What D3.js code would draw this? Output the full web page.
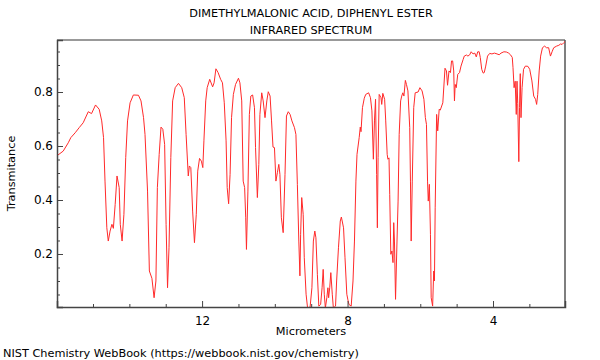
<!DOCTYPE html>
<html><head><meta charset="utf-8">
<script src="https://cdn.jsdelivr.net/npm/d3@7"></script>
<style>body{margin:0;background:#fff}svg{display:block}text{font-family:"DejaVu Sans",sans-serif;fill:#000}</style>
</head><body>
<svg id="c" width="600" height="360"></svg>
<script>
const titleLines = ["DIMETHYLMALONIC ACID, DIPHENYL ESTER", "INFRARED SPECTRUM"];
const xLabel = "Micrometers";
const yLabel = "Transmitance";
const credit = "NIST Chemistry WebBook (https://webbook.nist.gov/chemistry)";
const xTicks = [12, 8, 4];
const yTicks = [0.2, 0.4, 0.6, 0.8];
const wavelength = [16.00,15.82,15.68,15.61,15.49,15.38,15.27,15.13,15.04,14.93,14.83,14.76,14.71,14.67,14.62,14.58,14.53,14.48,14.44,14.39,14.34,14.28,14.25,14.20,14.15,14.10,14.05,13.98,13.89,13.75,13.68,13.61,13.57,13.50,13.45,13.38,13.32,13.27,13.23,13.18,13.13,13.08,13.03,12.99,12.95,12.91,12.86,12.81,12.74,12.65,12.56,12.49,12.44,12.38,12.35,12.31,12.26,12.21,12.16,12.12,12.07,12.02,11.98,11.95,11.90,11.86,11.79,11.71,11.67,11.62,11.56,11.49,11.44,11.39,11.34,11.31,11.27,11.23,11.19,11.14,11.08,11.00,10.96,10.91,10.87,10.83,10.80,10.78,10.74,10.70,10.66,10.61,10.56,10.53,10.48,10.44,10.41,10.36,10.32,10.27,10.22,10.18,10.13,10.09,10.05,10.01,9.97,9.93,9.89,9.86,9.82,9.77,9.72,9.68,9.63,9.58,9.53,9.46,9.42,9.38,9.34,9.31,9.29,9.26,9.22,9.19,9.14,9.10,9.03,8.98,8.94,8.90,8.87,8.83,8.79,8.74,8.70,8.67,8.64,8.61,8.57,8.54,8.52,8.49,8.46,8.42,8.39,8.33,8.30,8.25,8.20,8.17,8.11,8.07,8.02,7.99,7.96,7.90,7.85,7.81,7.77,7.74,7.68,7.65,7.63,7.59,7.54,7.50,7.42,7.37,7.33,7.29,7.26,7.23,7.20,7.18,7.16,7.13,7.08,7.06,7.03,6.98,6.95,6.91,6.89,6.86,6.84,6.81,6.78,6.75,6.73,6.71,6.68,6.64,6.61,6.58,6.54,6.51,6.48,6.45,6.41,6.38,6.34,6.29,6.27,6.25,6.22,6.18,6.14,6.06,6.01,5.95,5.90,5.86,5.83,5.80,5.78,5.75,5.72,5.70,5.66,5.63,5.61,5.59,5.55,5.52,5.48,5.45,5.38,5.32,5.28,5.25,5.21,5.17,5.14,5.11,5.08,5.06,5.04,5.01,4.97,4.92,4.88,4.82,4.79,4.73,4.69,4.64,4.60,4.55,4.50,4.46,4.42,4.38,4.35,4.31,4.27,4.24,4.20,4.15,4.09,4.03,3.96,3.89,3.83,3.78,3.70,3.63,3.57,3.52,3.47,3.45,3.42,3.39,3.36,3.34,3.32,3.29,3.27,3.25,3.23,3.20,3.16,3.11,3.04,2.99,2.93,2.88,2.83,2.80,2.77,2.73,2.69,2.64,2.58,2.53,2.47,2.42,2.37,2.33,2.25,2.19,2.14,2.10,2.05,2.02];
const transmittance = [0.563,0.581,0.612,0.631,0.649,0.668,0.686,0.727,0.720,0.752,0.736,0.693,0.631,0.470,0.297,0.248,0.285,0.310,0.295,0.384,0.489,0.446,0.310,0.248,0.347,0.557,0.693,0.760,0.789,0.788,0.767,0.705,0.643,0.433,0.137,0.110,0.038,0.100,0.446,0.569,0.670,0.662,0.606,0.310,0.075,0.223,0.557,0.767,0.816,0.832,0.816,0.779,0.643,0.489,0.526,0.520,0.359,0.242,0.347,0.507,0.554,0.544,0.520,0.619,0.767,0.816,0.847,0.819,0.834,0.886,0.872,0.847,0.834,0.760,0.619,0.446,0.386,0.495,0.705,0.791,0.828,0.851,0.834,0.767,0.470,0.446,0.334,0.217,0.433,0.717,0.785,0.789,0.742,0.594,0.409,0.532,0.717,0.797,0.767,0.705,0.767,0.801,0.785,0.693,0.596,0.594,0.470,0.501,0.532,0.495,0.334,0.279,0.495,0.711,0.727,0.717,0.693,0.668,0.643,0.458,0.248,0.119,0.273,0.409,0.347,0.186,0.051,0.001,0.003,0.075,0.248,0.285,0.260,0.125,0.007,0.013,0.075,0.143,0.051,0.000,0.038,0.075,0.038,0.075,0.131,0.051,0.000,0.007,0.100,0.223,0.322,0.337,0.297,0.186,0.051,0.030,0.013,0.007,0.100,0.248,0.470,0.569,0.631,0.670,0.653,0.742,0.777,0.791,0.797,0.779,0.730,0.551,0.693,0.773,0.495,0.297,0.557,0.791,0.779,0.754,0.795,0.773,0.693,0.569,0.551,0.556,0.421,0.199,0.211,0.168,0.316,0.248,0.032,0.248,0.396,0.643,0.767,0.785,0.797,0.785,0.843,0.828,0.804,0.668,0.470,0.248,0.470,0.742,0.797,0.800,0.816,0.804,0.773,0.705,0.680,0.470,0.396,0.458,0.273,0.038,0.007,0.137,0.100,0.371,0.717,0.656,0.736,0.733,0.760,0.888,0.878,0.825,0.878,0.872,0.915,0.915,0.878,0.767,0.828,0.816,0.865,0.872,0.896,0.921,0.933,0.937,0.933,0.938,0.949,0.941,0.944,0.930,0.949,0.949,0.928,0.884,0.870,0.872,0.896,0.933,0.943,0.941,0.944,0.941,0.938,0.944,0.949,0.948,0.944,0.938,0.928,0.890,0.816,0.840,0.717,0.840,0.757,0.542,0.742,0.868,0.705,0.816,0.884,0.896,0.895,0.884,0.841,0.785,0.773,0.754,0.791,0.878,0.933,0.964,0.970,0.964,0.964,0.933,0.951,0.964,0.970,0.973,0.978,0.976,0.983,0.987];

const W = 600, H = 360, m = {l:57, r:35, t:40, b:53};
const FS = 11.3, TFS = 12;
const svg = d3.select("#c");
const x = d3.scaleLinear().domain([15.99, 2.02]).range([m.l, W - m.r]);
const y = d3.scaleLinear().domain([0.0037, 0.9926]).range([H - m.b, m.t]);
const data = wavelength.map((w, i) => ({w, t: transmittance[i]}));

svg.append("clipPath").attr("id","clip").append("rect")
  .attr("x", m.l).attr("y", m.t).attr("width", W - m.l - m.r).attr("height", H - m.t - m.b);

// frame top/right
svg.append("line").attr("x1", m.l).attr("x2", W - m.r).attr("y1", m.t).attr("y2", m.t).attr("stroke", "#999").attr("stroke-width", 2);
svg.append("line").attr("x1", W - m.r).attr("x2", W - m.r).attr("y1", m.t).attr("y2", H - m.b).attr("stroke", "#555").attr("stroke-width", 1.5);

const line = d3.line().x(d => x(d.w)).y(d => y(d.t));
svg.append("path").datum(data).attr("clip-path","url(#clip)")
  .attr("fill","none").attr("stroke","#ff2a2a").attr("stroke-width",1).attr("d", line);

// x axis
const xMinor = d3.range(15, 2, -1).filter(v => !xTicks.includes(v));
const gx = svg.append("g").attr("transform", `translate(0,${H - m.b})`);
gx.call(d3.axisBottom(x).tickValues(xTicks).tickSize(-6).tickPadding(9).tickFormat(d3.format("d")));
gx.append("g").call(d3.axisBottom(x).tickValues(xMinor).tickSize(-3).tickFormat(""));
// y axis
const yMinor = d3.range(0.05, 0.99, 0.05).filter(v => !yTicks.some(t => Math.abs(t - v) < 1e-6));
const gy = svg.append("g").attr("transform", `translate(${m.l},0)`);
gy.call(d3.axisLeft(y).tickValues(yTicks).tickSize(-6).tickPadding(4).tickFormat(d3.format(".1f")));
gy.append("g").call(d3.axisLeft(y).tickValues(yMinor).tickSize(-3).tickFormat(""));
svg.selectAll(".domain").attr("stroke","#444").attr("stroke-width",1.5);
svg.selectAll(".tick line").attr("stroke","#444");
svg.selectAll(".tick text").attr("font-size", TFS).attr("font-family","DejaVu Sans").attr("fill","#000");
gy.selectAll("g > g .domain").remove();
gx.selectAll("g > g .domain").remove();

const cx = (m.l + W - m.r) / 2;
svg.append("text").attr("x", cx).attr("y", 17).attr("text-anchor","middle").attr("font-size",FS).text(titleLines[0]);
svg.append("text").attr("x", cx).attr("y", 34).attr("text-anchor","middle").attr("font-size",FS).text(titleLines[1]);
svg.append("text").attr("x", cx).attr("y", 335).attr("text-anchor","middle").attr("font-size",FS).text(xLabel);
svg.append("text").attr("transform", `translate(15,${(m.t + H - m.b)/2}) rotate(-90)`).attr("text-anchor","middle").attr("font-size",FS).text(yLabel);
svg.append("text").attr("x", 3).attr("y", 357).attr("font-size",FS).text(credit);
</script>
</body></html>
